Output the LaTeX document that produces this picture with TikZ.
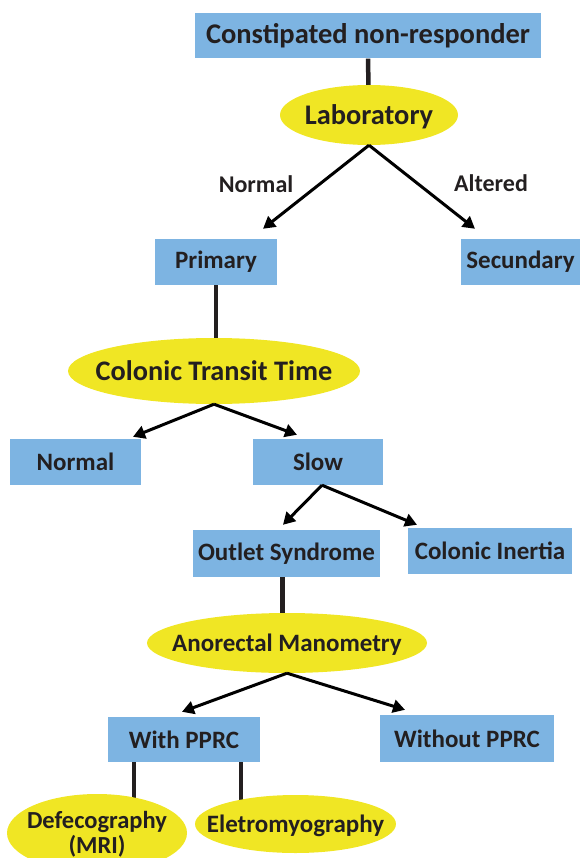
\documentclass[tikz,border=0pt]{standalone}
\usepackage{fontspec}
\setmainfont{Carlito}
\usetikzlibrary{shapes.geometric,arrows.meta,backgrounds}
\definecolor{boxblue}{HTML}{7DB4E2}
\definecolor{ellyellow}{HTML}{F0E624}
\definecolor{ink}{HTML}{231F20}
\newcommand{\fsz}[1]{\fontsize{#1}{#1}\selectfont\bfseries}
\newcommand{\ctext}[2][-0.32em]{\raisebox{#1}[0pt][0pt]{\makebox[0pt]{#2}}}
\tikzset{
  bluebox/.style={rectangle, fill=boxblue, inner sep=0pt, text=ink, font=\fsz{25}},
  yellowell/.style={ellipse, fill=ellyellow, inner sep=0pt, text=ink, font=\fsz{25}},
  lbl/.style={text=ink, font=\fsz{24}, inner sep=0pt},
  conn/.style={draw=ink, line width=4.5pt},
  arr/.style={draw=black, line width=3pt, -{Triangle[length=12pt,width=13pt]}}
}
\begin{document}
\begin{tikzpicture}[x=1pt,y=-1pt]
\useasboundingbox (0,0) rectangle (581,858);
\node[bluebox, minimum width=346pt, minimum height=45pt, font=\fsz{28.5}] (top) at (368,36) {Constipated non-responder};
\node[yellowell, minimum width=178pt, minimum height=60pt, font=\fsz{28.4}] (lab) at (369,115) {\ctext{Laboratory}};
\node[lbl] (lnorm) at (256,184) {Normal};
\node[lbl] (lalt) at (491,183) {Altered};
\node[bluebox, minimum width=122pt, minimum height=46pt] (prim) at (216,262) {Primary};
\node[bluebox, minimum width=119pt, minimum height=46pt] (sec) at (520.5,262) {Secundary};
\node[yellowell, minimum width=292pt, minimum height=66pt, font=\fsz{28.3}] (ctt) at (214,371) {\ctext{Colonic Transit Time}};
\node[bluebox, minimum width=131pt, minimum height=46pt] (norm) at (75.5,462) {Normal};
\node[bluebox, minimum width=130pt, minimum height=46pt] (slow) at (318,462) {Slow};
\node[bluebox, minimum width=187pt, minimum height=47pt] (outlet) at (286.5,553.5) {Outlet Syndrome};
\node[bluebox, minimum width=164pt, minimum height=46pt] (inertia) at (490,551) {Colonic Inertia};
\node[yellowell, minimum width=280pt, minimum height=60pt] (arm) at (287,643) {\ctext{Anorectal Manometry}};
\node[bluebox, minimum width=152pt, minimum height=45pt] (with) at (184,739.5) {With PPRC};
\node[bluebox, minimum width=174pt, minimum height=47pt] (without) at (467,738.5) {Without PPRC};
\node[yellowell, minimum width=180pt, minimum height=78pt, font=\fsz{24.5}] (defe) at (97,833) {\ctext[5pt]{Defecography}\ctext[-20pt]{(MRI)}};
\node[yellowell, minimum width=201pt, minimum height=58pt] (elet) at (295.5,824) {\ctext{Eletromyography}};
\coordinate (tPrim) at ([xshift=47pt,yshift=10pt]prim.north);
\coordinate (tSec) at ([xshift=-45.5pt,yshift=10pt]sec.north);
\coordinate (tNorm) at ([xshift=57.5pt,yshift=2pt]norm.north);
\coordinate (tSlow) at ([xshift=-21pt,yshift=4pt]slow.north);
\coordinate (tOut) at ([xshift=-3.5pt,yshift=5pt]outlet.north);
\coordinate (tIn) at ([xshift=-73pt,yshift=3pt]inertia.north);
\coordinate (tWith) at ([xshift=-2pt,yshift=5pt]with.north);
\coordinate (tWo) at ([xshift=-62pt,yshift=5pt]without.north);
\begin{scope}[on background layer]
\draw[conn] (top.south) -- (lab.center);
\draw[conn] (prim.south) -- (prim.south |- ctt.center);
\draw[conn] ([xshift=-4pt]outlet.south) -- ([xshift=-4pt]outlet.south |- arm.center);
\draw[conn] ([xshift=-50pt]with.south) -- ([xshift=-50pt]with.south |- defe.center);
\draw[conn] ([xshift=57pt]with.south) -- ([xshift=57pt]with.south |- elet.center);
\end{scope}
\draw[arr] (lab.south) -- (tPrim);
\draw[arr] (lab.south) -- (tSec);
\draw[arr] (ctt.south) -- (tNorm);
\draw[arr] (ctt.south) -- (tSlow);
\draw[arr] ([xshift=4pt]slow.south) -- (tOut);
\draw[arr] ([xshift=4pt]slow.south) -- (tIn);
\draw[arr] (arm.south) -- (tWith);
\draw[arr] (arm.south) -- (tWo);
\end{tikzpicture}
\end{document}
